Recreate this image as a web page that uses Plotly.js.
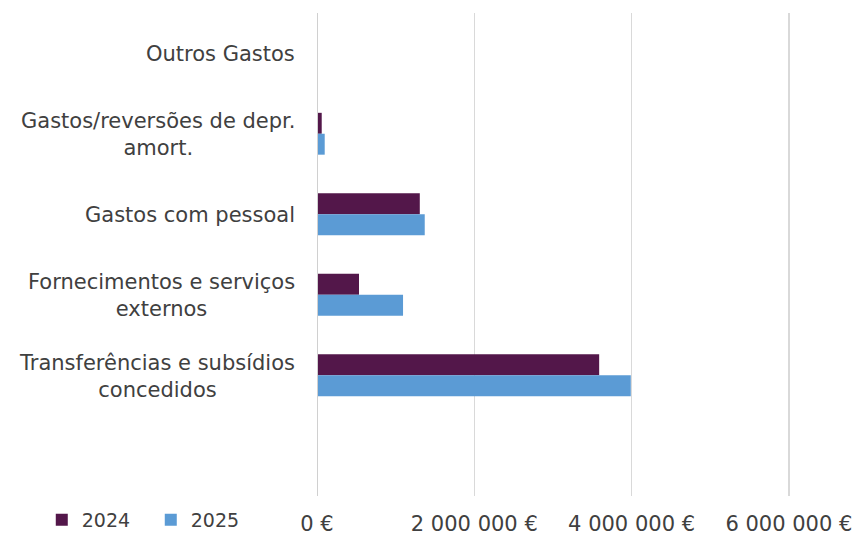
<!DOCTYPE html>
<html>
<head>
<meta charset="utf-8">
<script src="https://cdn.plot.ly/plotly-3.0.1.min.js"></script>
<style>html,body{margin:0;padding:0;background:#fff;}#chart{width:862px;height:539px;}</style>
</head>
<body>
<div id="chart"></div>
<script>
// Categories listed top to bottom
var categories = ["Outros Gastos", "Gastos/reversões de depr.<br>amort.", "Gastos com pessoal", "Fornecimentos e serviços<br>externos", "Transferências e subsídios<br>concedidos"];
var series2024 = [0, 60000, 1307000, 534000, 3588000];
var series2025 = [0, 98000, 1370000, 1094000, 3990000];
var tickValues = [0, 2000000, 4000000, 6000000];
var tickLabels = ["0 €", "2 000 000 €", "4 000 000 €", "6 000 000 €"];

var catIdx = categories.map(function(c, i){ return i; });
var FONT = 'DejaVu Sans, Liberation Sans, Arial, sans-serif';

var traces = [
  {type: 'bar', orientation: 'h', name: '2024', x: series2024, y: catIdx,
   marker: {color: '#53174a'}},
  {type: 'bar', orientation: 'h', name: '2025', x: series2025, y: catIdx,
   marker: {color: '#5b9bd5'}}
];

var annotations = categories.map(function(c, i){
  return {xref: 'paper', yref: 'y', x: 0, y: i, xanchor: 'right', yanchor: 'middle',
          xshift: -20, yshift: -1, text: c, showarrow: false, align: 'center',
          font: {family: FONT, size: 21, color: '#404040'}};
});

var layout = {
  width: 862, height: 539,
  margin: {l: 317, r: 0, t: 13, b: 39},
  paper_bgcolor: '#fff', plot_bgcolor: '#fff',
  barmode: 'group', bargap: 0.48, bargroupgap: 0,
  font: {family: FONT, size: 21, color: '#404040'},
  xaxis: {range: [0, 6930000], tickvals: tickValues, ticktext: tickLabels,
          showgrid: true, gridcolor: '#d9d9d9', gridwidth: 1.5,
          zeroline: false, showline: false, ticks: '', ticklabelstandoff: 13,
          tickfont: {family: FONT, size: 21, color: '#404040'}},
  yaxis: {type: 'linear', range: [5.5, -0.5], showticklabels: false, showgrid: false,
          zeroline: false, showline: false, ticks: ''},
  shapes: [{type: 'line', xref: 'x', yref: 'paper', x0: 0, x1: 0, y0: 0, y1: 1,
            line: {color: '#d0d0d0', width: 2}}],
  annotations: annotations,
  showlegend: true,
  legend: {orientation: 'h', x: -0.505, xanchor: 'left', y: -0.05, yanchor: 'middle',
           font: {family: FONT, size: 19, color: '#404040'}, itemwidth: 30,
           entrywidth: 64, bgcolor: 'rgba(0,0,0,0)'}
};

Plotly.newPlot('chart', traces, layout, {displayModeBar: false, staticPlot: true});
</script>
</body>
</html>
